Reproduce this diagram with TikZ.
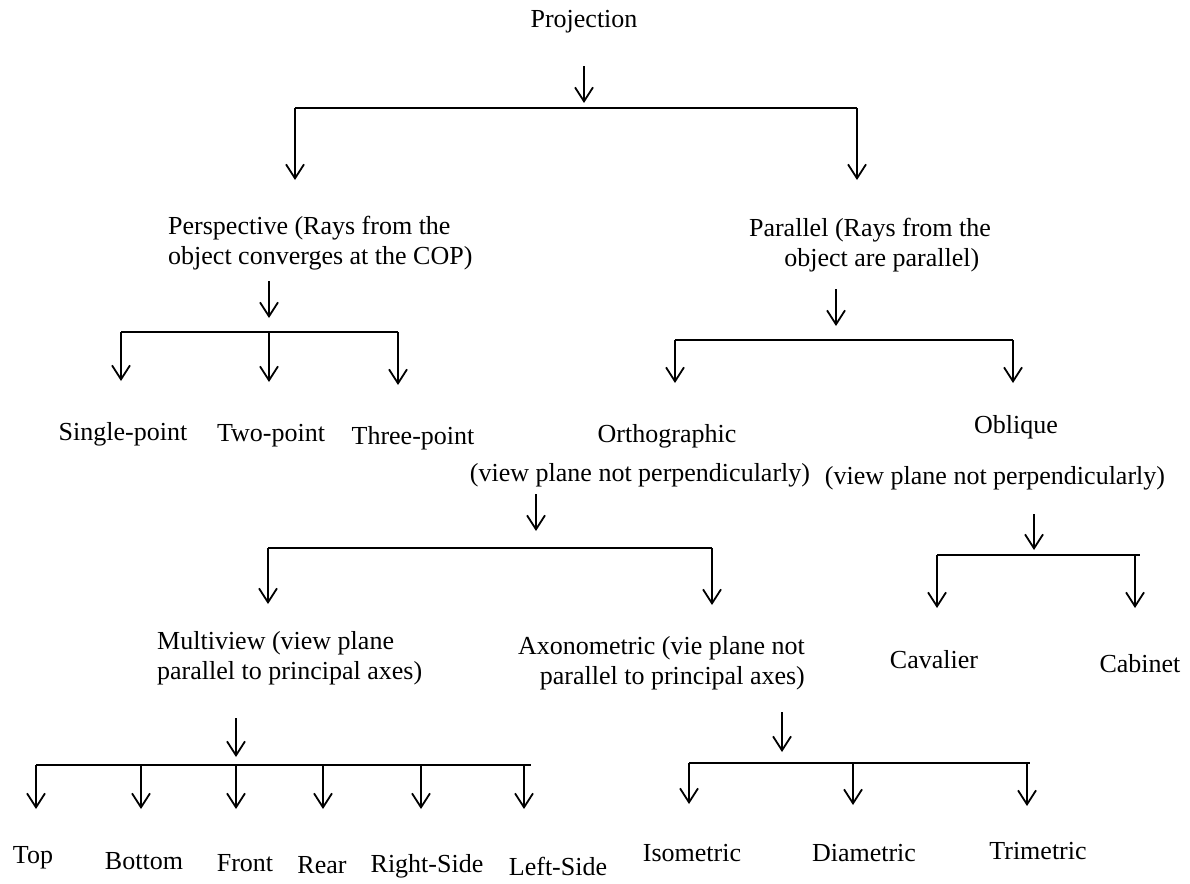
\documentclass[tikz,border=0pt]{standalone}
\usepackage{fontspec}
\setmainfont{Liberation Serif}
\usetikzlibrary{arrows.meta}
\begin{document}
\begin{tikzpicture}[x=1pt,y=-1pt,
  lbl/.style={inner sep=0pt, font=\fontsize{26}{30}\selectfont},
  arr/.style={line width=1.8pt, -{Straight Barb[length=14pt,width=18pt]}},
  bar/.style={line width=1.8pt}]
\useasboundingbox (0,0) rectangle (1190,883);
% labels
\node[lbl] (proj) at (584,22) {Projection};
\node[lbl, align=left, anchor=west] (persp) at (168,243) {Perspective (Rays from the\\object converges at the COP)};
\node[lbl, align=center] (para) at (870,245) {Parallel (Rays from the\\\hspace*{0.9em}object are parallel)};
\node[lbl] (single) at (123,434) {Single-point};
\node[lbl] (two) at (271,436) {Two-point};
\node[lbl] (three) at (413,438) {Three-point};
\node[lbl] (ortho) at (667,436) {Orthographic};
\node[lbl] (orthod) at (640,475) {(view plane not perpendicularly)};
\node[lbl] (obl) at (1016,427) {Oblique};
\node[lbl] (obld) at (995,478) {(view plane not perpendicularly)};
\node[lbl, align=left, anchor=west] (multi) at (157,658) {Multiview (view plane\\parallel to principal axes)};
\node[lbl, align=right, anchor=east] (axo) at (805,663) {Axonometric (vie plane not\\parallel to principal axes)};
\node[lbl] (cav) at (934,660) {Cavalier};
\node[lbl] (cab) at (1140,664) {Cabinet};
\node[lbl] (top) at (33,858) {Top};
\node[lbl] (bottom) at (144,861) {Bottom};
\node[lbl] (front) at (245,863) {Front};
\node[lbl] (rear) at (322,865) {Rear};
\node[lbl] (right) at (427,866) {Right-Side};
\node[lbl] (left) at (558,866) {Left-Side};
\node[lbl] (iso) at (692,853) {Isometric};
\node[lbl] (dia) at (864,853) {Diametric};
\node[lbl] (tri) at (1038,851) {Trimetric};
% level 1
\coordinate (a0) at (584,66); \coordinate (a1) at (584,103);
\coordinate (b1l) at (295,108); \coordinate (b1r) at (857,108);
\coordinate (e1l) at (295,180); \coordinate (e1r) at (857,180);
\draw[arr] (a0) -- (a1);
\draw[bar] (b1l) -- (b1r);
\draw[arr] (b1l) -- (e1l);
\draw[arr] (b1r) -- (e1r);
% perspective
\coordinate (p0) at (269,281); \coordinate (p1) at (269,318);
\coordinate (pl) at (121,332); \coordinate (pm) at (269,332); \coordinate (pr) at (398,332);
\coordinate (pel) at (121,381); \coordinate (pem) at (269,382); \coordinate (per) at (398,385);
\draw[arr] (p0) -- (p1);
\draw[bar] (pl) -- (pr);
\draw[arr] (pl) -- (pel);
\draw[arr] (pm) -- (pem);
\draw[arr] (pr) -- (per);
% parallel
\coordinate (q0) at (836,289); \coordinate (q1) at (836,326);
\coordinate (ql) at (675,340); \coordinate (qr) at (1013,340);
\coordinate (qel) at (675,383); \coordinate (qer) at (1013,383);
\draw[arr] (q0) -- (q1);
\draw[bar] (ql) -- (qr);
\draw[arr] (ql) -- (qel);
\draw[arr] (qr) -- (qer);
% orthographic
\coordinate (o0) at (536,494); \coordinate (o1) at (536,531);
\coordinate (ol) at (268,548); \coordinate (or) at (712,548);
\coordinate (oel) at (268,604); \coordinate (oer) at (712,605);
\draw[arr] (o0) -- (o1);
\draw[bar] (ol) -- (or);
\draw[arr] (ol) -- (oel);
\draw[arr] (or) -- (oer);
% oblique
\coordinate (c0) at (1034,514); \coordinate (c1) at (1034,550);
\coordinate (cl) at (937,555); \coordinate (cr) at (1140,555);
\coordinate (ct) at (1135,555);
\coordinate (cel) at (937,608); \coordinate (cer) at (1135,608);
\draw[arr] (c0) -- (c1);
\draw[bar] (cl) -- (cr);
\draw[arr] (cl) -- (cel);
\draw[arr] (ct) -- (cer);
% multiview
\coordinate (m0) at (236,718); \coordinate (m1) at (236,757);
\coordinate (mA) at (36,765); \coordinate (mB) at (141,765); \coordinate (mC) at (236,765);
\coordinate (mD) at (323,765); \coordinate (mE) at (421,765); \coordinate (mF) at (524,765);
\coordinate (mR) at (531,765);
\draw[arr] (m0) -- (m1);
\draw[bar] (mA) -- (mR);
\foreach \n/\x in {A/36,B/141,C/236,D/323,E/421,F/524}{
  \coordinate (mt\n) at (\x,809);
  \draw[arr] (m\n) -- (mt\n);
}
% axonometric
\coordinate (x0) at (782,712); \coordinate (x1) at (782,752);
\coordinate (xl) at (689,763); \coordinate (xm) at (853,763); \coordinate (xr) at (1030,763);
\coordinate (xt) at (1027,763);
\coordinate (xel) at (689,804); \coordinate (xem) at (853,805); \coordinate (xer) at (1027,806);
\draw[arr] (x0) -- (x1);
\draw[bar] (xl) -- (xr);
\draw[arr] (xl) -- (xel);
\draw[arr] (xm) -- (xem);
\draw[arr] (xt) -- (xer);
\end{tikzpicture}
\end{document}
